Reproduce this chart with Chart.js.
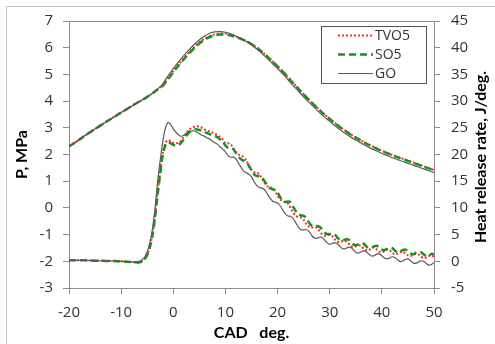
<!DOCTYPE html>
<html>
<head>
<meta charset="utf-8">
<script src="https://cdn.jsdelivr.net/npm/chart.js@4"></script>
<style>
  body { margin: 0; background: #fff; }
  canvas { display: block; }
</style>
</head>
<body>
<canvas id="myChart" width="495" height="344"></canvas>
<script>
// crank angle for the pressure curves (1 deg step)
const cadP = [-20, -19, -18, -17, -16, -15, -14, -13, -12, -11, -10, -9, -8, -7, -6, -5, -4, -3, -2, -1,
  0, 1, 2, 3, 4, 5, 6, 7, 8, 9, 10, 11, 12, 13, 14, 15, 16, 17, 18, 19, 20, 21, 22, 23, 24, 25, 26, 27, 28, 29,
  30, 31, 32, 33, 34, 35, 36, 37, 38, 39, 40, 41, 42, 43, 44, 45, 46, 47, 48, 49, 50];

// cylinder pressure, MPa
const pTVO5 = [2.30, 2.43, 2.56, 2.70, 2.83, 2.96, 3.08, 3.21, 3.33, 3.45, 3.57, 3.69, 3.81, 3.93, 4.04, 4.16, 4.29,
  4.44, 4.61, 4.86, 5.12, 5.37, 5.60, 5.82, 6.02, 6.20, 6.34, 6.44, 6.50, 6.53, 6.53, 6.49, 6.42, 6.34, 6.25, 6.14,
  6.01, 5.85, 5.68, 5.50, 5.31, 5.11, 4.90, 4.68, 4.47, 4.26, 4.06, 3.87, 3.68, 3.50, 3.34, 3.18, 3.03, 2.89, 2.76,
  2.64, 2.53, 2.42, 2.32, 2.23, 2.14, 2.06, 1.98, 1.91, 1.84, 1.77, 1.70, 1.63, 1.56, 1.49, 1.42];
const pSO5 = [2.30, 2.43, 2.56, 2.70, 2.83, 2.96, 3.08, 3.21, 3.33, 3.45, 3.57, 3.69, 3.81, 3.93, 4.04, 4.16, 4.29,
  4.43, 4.58, 4.82, 5.08, 5.33, 5.56, 5.78, 5.98, 6.16, 6.30, 6.40, 6.46, 6.49, 6.49, 6.46, 6.40, 6.33, 6.24, 6.13,
  6.00, 5.84, 5.67, 5.49, 5.30, 5.10, 4.89, 4.67, 4.46, 4.25, 4.05, 3.86, 3.67, 3.49, 3.33, 3.17, 3.02, 2.88, 2.75,
  2.63, 2.52, 2.41, 2.31, 2.22, 2.13, 2.05, 1.97, 1.90, 1.83, 1.76, 1.69, 1.62, 1.55, 1.48, 1.41];
const pGO = [2.30, 2.43, 2.56, 2.70, 2.83, 2.96, 3.08, 3.21, 3.33, 3.45, 3.57, 3.69, 3.81, 3.93, 4.04, 4.16, 4.29,
  4.45, 4.65, 4.95, 5.22, 5.47, 5.70, 5.92, 6.12, 6.30, 6.44, 6.54, 6.59, 6.60, 6.58, 6.52, 6.44, 6.34, 6.23, 6.10,
  5.95, 5.78, 5.60, 5.41, 5.22, 5.02, 4.80, 4.58, 4.37, 4.16, 3.96, 3.77, 3.58, 3.40, 3.24, 3.08, 2.93, 2.79, 2.66,
  2.54, 2.43, 2.32, 2.22, 2.13, 2.04, 1.96, 1.88, 1.81, 1.74, 1.67, 1.60, 1.53, 1.46, 1.39, 1.32];

// crank angle for the heat release curves
const cadH = [-20, -18, -16, -14, -12, -10, -8,
  -7, -6.5, -6, -5.5, -5, -4.5, -4, -3.5, -3, -2.5, -2, -1.5, -1, -0.5, 0, 0.5, 1, 1.5, 2, 2.5, 3, 3.5, 4, 4.5,
  5, 5.5, 6, 6.5, 7, 7.5, 8, 8.5, 9, 9.5, 10, 10.5, 11, 11.5, 12, 12.5, 13, 13.5, 14, 14.5, 15, 15.5, 16, 16.5,
  17, 17.5, 18, 18.5, 19, 19.5, 20, 20.5, 21, 21.5, 22, 22.5, 23, 23.5, 24, 24.5, 25, 25.5, 26, 26.5, 27, 27.5,
  28, 28.5, 29, 29.5, 30, 30.5, 31, 31.5, 32, 32.5, 33, 33.5, 34, 34.5, 35, 35.5, 36, 36.5, 37, 37.5, 38, 38.5,
  39, 39.5, 40, 40.5, 41, 41.5, 42, 42.5, 43, 43.5, 44, 44.5, 45, 45.5, 46, 46.5, 47, 47.5, 48, 48.5, 49, 49.5, 50];

// heat release rate, J/deg.
const hTVO5 = [0.2, 0.2, 0.15, 0.1, 0.05, 0.0, -0.15,
  -0.2, -0.2, 0.0, 0.4, 1.3, 2.7, 5.0, 8.6, 13.0, 17.0, 20.3, 22.2, 22.7, 22.5, 22.2, 22.1, 22.2, 22.6, 23.3, 24.0,
  24.6, 25.0, 25.2, 25.3, 25.2, 25.0, 24.7, 24.5, 24.3, 24.1, 23.9, 23.6, 23.2, 22.8,
  22.1, 22.1, 21.9, 21.2, 20.5, 20.0, 19.8, 19.5, 18.9, 17.9, 17.1, 16.7, 16.6, 16.3, 15.5, 14.7, 14.1, 13.9, 13.7, 13.2,
  12.3, 11.6, 11.2, 11.1, 10.8, 10.0, 9.1, 8.5, 8.3, 8.2, 7.8, 7.0, 6.5, 6.3, 6.4, 6.3, 5.7, 5.1, 4.8, 4.9,
  4.9, 4.7, 4.1, 3.7, 3.6, 3.8, 3.8, 3.4, 2.9, 2.7, 2.8, 3.0, 2.9, 2.4, 2.1, 2.1, 2.5, 2.6, 2.2, 1.8,
  1.7, 1.9, 2.2, 2.1, 1.6, 1.3, 1.4, 1.7, 1.8, 1.5, 1.1, 1.0, 1.2, 1.4, 1.3, 0.9, 0.6, 0.7, 1.0, 1.1, 0.8];
const hSO5 = [0.2, 0.2, 0.15, 0.1, 0.05, 0.0, -0.15,
  -0.2, -0.2, 0.0, 0.4, 1.2, 2.6, 4.8, 8.3, 12.5, 16.5, 20.0, 21.8, 22.3, 22.1, 21.8, 21.7, 21.8, 22.2, 22.8, 23.5,
  24.1, 24.5, 24.7, 24.7, 24.6, 24.4, 24.2, 24.0, 23.8, 23.6, 23.5, 23.2, 22.8, 22.4,
  21.7, 21.3, 21.3, 21.0, 20.3, 19.6, 19.1, 18.8, 18.5, 17.9, 17.0, 16.3, 16.0, 15.9, 15.7, 15.0, 14.3, 13.7, 13.5, 13.4,
  12.9, 12.0, 11.3, 11.1, 11.2, 11.1, 10.2, 9.4, 8.8, 8.6, 8.5, 8.1, 7.3, 6.7, 6.5, 6.6, 6.5, 6.0, 5.4, 5.1,
  5.1, 5.2, 5.0, 4.4, 4.0, 3.9, 4.1, 4.1, 3.7, 3.2, 3.0, 3.2, 3.4, 3.3, 2.8, 2.5, 2.5, 2.8, 2.9, 2.6,
  2.2, 2.1, 2.3, 2.6, 2.5, 2.0, 1.7, 1.8, 2.1, 2.2, 1.9, 1.5, 1.3, 1.6, 1.8, 1.7, 1.3, 1.0, 1.0, 1.4, 1.3];
const hGO = [0.2, 0.2, 0.15, 0.1, 0.1, 0.0, -0.1,
  -0.1, 0.0, 0.3, 0.8, 1.8, 3.5, 6.0, 10.0, 15.0, 19.0, 22.5, 25.0, 26.0, 25.6, 24.8, 24.2, 23.7, 23.4, 23.6, 24.0,
  24.3, 24.4, 24.4, 24.2, 23.9, 23.6, 23.4, 23.1, 22.9, 22.5, 22.2, 21.9, 21.4, 21.0,
  20.5, 19.8, 19.5, 19.5, 19.2, 18.4, 17.6, 16.9, 16.6, 16.3, 15.8, 14.9, 14.2, 13.8, 13.7, 13.4, 12.7, 11.9, 11.3, 11.1,
  10.9, 10.4, 9.6, 8.9, 8.5, 8.4, 8.0, 7.2, 6.4, 5.9, 5.9, 5.9, 5.6, 4.9, 4.4, 4.3, 4.5, 4.5, 4.0, 3.45,
  3.2, 3.35, 3.5, 3.25, 2.75, 2.35, 2.35, 2.6, 2.6, 2.2, 1.7, 1.55, 1.75, 1.95, 1.8, 1.35, 1.0, 1.05, 1.35, 1.4,
  1.05, 0.6, 0.45, 0.65, 0.85, 0.7, 0.3, -0.05, 0.05, 0.35, 0.45, 0.1, -0.3, -0.4, -0.15, 0.1, 0.0, -0.4, -0.7, -0.6, -0.2];

const fuels = ["TVO5", "SO5", "GO"];
const xTitle = "CAD   deg.";
const leftTitle = "P, MPa";
const rightTitle = "Heat release rate, J/deg.";

const tickFont = { family: "'Open Sans'", size: 15 };
const titleFont = { family: "Lato", size: 16, weight: "bold" };
const axisGray = "#8c8c8c";
const labelColor = "#333";

const styles = [
  { borderColor: "#ff2a2a", borderWidth: 2, borderDash: [2, 2], order: 2 },
  { borderColor: "#1f8f1f", borderWidth: 2.5, borderDash: [7, 4], order: 1 },
  { borderColor: "#5a5a5a", borderWidth: 1.2, borderDash: [], order: 0 }
];

function pts(xs, ys) {
  return xs.map((x, i) => ({ x: x, y: ys[i] }));
}

const pSeries = [pTVO5, pSO5, pGO];
const hSeries = [hTVO5, hSO5, hGO];
const datasets = [];
fuels.forEach((name, i) => {
  datasets.push(Object.assign({ label: name, data: pts(cadP, pSeries[i]), yAxisID: "y" }, styles[i]));
});
fuels.forEach((name, i) => {
  datasets.push(Object.assign({ label: name, data: pts(cadH, hSeries[i]), yAxisID: "y2" }, styles[i]));
});

const decorations = {
  id: "decorations",
  beforeDraw(chart) {
    const ctx = chart.ctx;
    ctx.save();
    ctx.fillStyle = "#fff";
    ctx.fillRect(0, 0, chart.width, chart.height);
    ctx.strokeStyle = "#c4c4c4";
    ctx.lineWidth = 1;
    ctx.strokeRect(6.5, 6.5, 700, 700);
    ctx.restore();
  },
  afterDraw(chart) {
    const ctx = chart.ctx;
    const a = chart.chartArea;
    ctx.save();
    // top edge of the plot box
    ctx.strokeStyle = axisGray;
    ctx.lineWidth = 1;
    ctx.beginPath();
    ctx.moveTo(a.left, Math.round(a.top) + 0.5);
    ctx.lineTo(a.right, Math.round(a.top) + 0.5);
    ctx.stroke();

    // legend box
    ctx.fillStyle = "#fff";
    ctx.fillRect(321, 26, 105, 57);
    ctx.strokeStyle = "#555";
    ctx.strokeRect(321.5, 26.5, 105, 57);
    fuels.forEach((name, i) => {
      const ds = chart.data.datasets[i];
      const y = 35 + i * 19;
      ctx.strokeStyle = ds.borderColor;
      ctx.lineWidth = ds.borderWidth;
      ctx.setLineDash(ds.borderDash);
      ctx.beginPath();
      ctx.moveTo(338, y + 0.5);
      ctx.lineTo(373, y + 0.5);
      ctx.stroke();
      ctx.setLineDash([]);
      ctx.fillStyle = labelColor;
      ctx.font = "14px 'Open Sans'";
      ctx.textAlign = "left";
      ctx.textBaseline = "middle";
      ctx.fillText(name, 375, y + 1);
    });

    // right axis title, reading bottom to top
    ctx.translate(481, 157);
    ctx.rotate(-Math.PI / 2);
    ctx.font = "bold 16px Lato";
    ctx.fillStyle = "#000";
    ctx.textAlign = "center";
    ctx.textBaseline = "middle";
    ctx.fillText(rightTitle, 0, 0);
    ctx.restore();
  }
};

const ctx = document.getElementById("myChart").getContext("2d");
const chart = new Chart(ctx, {
  type: "line",
  data: { datasets: datasets },
  plugins: [decorations],
  options: {
    responsive: false,
    animation: false,
    devicePixelRatio: 1,
    layout: { padding: { top: 21, left: 0, right: 0, bottom: 0 } },
    elements: {
      point: { radius: 0 },
      line: { tension: 0.3, fill: false, borderCapStyle: "butt" }
    },
    plugins: { legend: { display: false }, tooltip: { enabled: false } },
    scales: {
      x: {
        type: "linear",
        position: "bottom",
        min: -20,
        max: 50,
        afterFit: s => { s.height = 56; },
        ticks: { stepSize: 10, font: tickFont, color: labelColor, padding: 10, maxRotation: 0 },
        grid: { drawOnChartArea: false, drawTicks: true, tickLength: 6, color: axisGray },
        border: { display: true, color: axisGray },
        title: { display: true, text: xTitle, font: titleFont, color: "#000", padding: { top: 0, bottom: 2 } }
      },
      y: {
        position: "left",
        min: -3,
        max: 7,
        afterFit: s => { s.width = 69; },
        ticks: { stepSize: 1, font: tickFont, color: labelColor, padding: 10 },
        grid: { drawOnChartArea: false, drawTicks: true, tickLength: 6, color: axisGray },
        border: { display: true, color: axisGray },
        title: { display: true, text: leftTitle, font: titleFont, color: "#000", padding: { top: 12, bottom: 0 } }
      },
      y2: {
        position: "right",
        min: -5,
        max: 45,
        afterFit: s => { s.width = 61; },
        ticks: { stepSize: 5, font: tickFont, color: labelColor, padding: 11 },
        grid: { drawOnChartArea: false, drawTicks: true, tickLength: 6, color: axisGray },
        border: { display: true, color: axisGray }
      }
    }
  }
});
</script>
</body>
</html>
